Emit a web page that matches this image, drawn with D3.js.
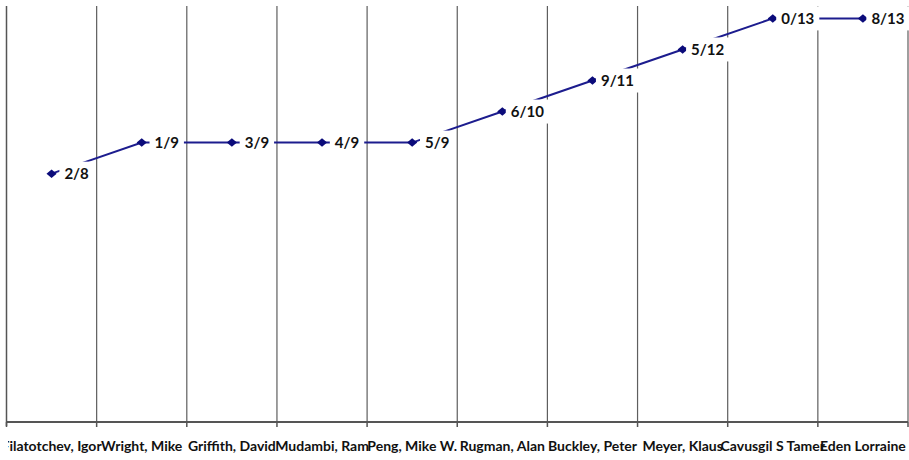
<!DOCTYPE html>
<html>
<head>
<meta charset="utf-8">
<script src="https://cdn.jsdelivr.net/npm/d3@7"></script>
<style>
  html, body { margin: 0; padding: 0; background: #fff; }
  svg { display: block; }
</style>
</head>
<body>
<svg id="chart" width="909" height="460"></svg>
<script>
// Authors along the x axis
const categories = [
  "Filatotchev, Igor", "Wright, Mike", "Griffith, David", "Mudambi, Ram",
  "Peng, Mike W.", "Rugman, Alan", "Buckley, Peter", "Meyer, Klaus",
  "Cavusgil S Tamer", "Eden Lorraine"
];
// Series values
const values = [8, 9, 9, 9, 9, 10, 11, 12, 13, 13];
// First part of each point label; the second part is the value itself
const labelLeads = [2, 1, 3, 4, 5, 6, 9, 5, 0, 8];
const pointLabels = labelLeads.map((n, i) => n + "/" + values[i]);

const svg = d3.select("#chart");
const plot = { left: 6.5, right: 908, top: 6, bottom: 422 };

const x = d3.scaleBand().domain(categories).range([plot.left, plot.right]).padding(0);
const y = d3.scaleLinear().domain([0, 13.4]).range([plot.bottom, plot.top]);

const gridColor = "#5e5e5e";

// Vertical gridlines at category boundaries
svg.append("g")
  .selectAll("line")
  .data(categories)
  .join("line")
  .attr("x1", d => x(d) + x.bandwidth())
  .attr("x2", d => x(d) + x.bandwidth())
  .attr("y1", plot.top)
  .attr("y2", plot.bottom)
  .attr("stroke", gridColor)
  .attr("stroke-width", 1.2);

// Category axis with tick marks at band edges
const xAxis = svg.append("g").attr("transform", `translate(0,${plot.bottom})`);
xAxis.append("line")
  .attr("x1", plot.left).attr("x2", plot.right)
  .attr("stroke", "#555").attr("stroke-width", 2);
xAxis.selectAll("line.tick")
  .data([null, ...categories])
  .join("line")
  .attr("class", "tick")
  .attr("x1", d => d === null ? plot.left : x(d) + x.bandwidth())
  .attr("x2", d => d === null ? plot.left : x(d) + x.bandwidth())
  .attr("y1", 0).attr("y2", 5)
  .attr("stroke", "#555").attr("stroke-width", 1.5);

// Left axis line
svg.append("line")
  .attr("x1", plot.left).attr("x2", plot.left)
  .attr("y1", plot.top).attr("y2", plot.bottom + 4)
  .attr("stroke", "#555").attr("stroke-width", 1.5);

// Category labels, centred on their bands (long names run into each other)
svg.append("clipPath").attr("id", "labelClip")
  .append("rect")
  .attr("x", plot.left + 1.5).attr("y", plot.bottom)
  .attr("width", 909 - plot.left).attr("height", 460 - plot.bottom);
svg.append("g")
  .attr("clip-path", "url(#labelClip)")
  .selectAll("text")
  .data(categories)
  .join("text")
  .attr("x", d => x(d) + x.bandwidth() / 2)
  .attr("y", 451)
  .attr("text-anchor", "middle")
  .attr("font-family", "Lato, 'Open Sans', sans-serif")
  .attr("font-weight", 700)
  .attr("font-size", 14)
  .attr("fill", "#111")
  .text(d => d);

// Series line
const px = (d, i) => x(categories[i]) + x.bandwidth() / 2;
const line = d3.line().x((d, i) => px(d, i)).y(d => y(d));
svg.append("path")
  .datum(values)
  .attr("d", line)
  .attr("fill", "none")
  .attr("stroke", "#1c1c8e")
  .attr("stroke-width", 2);

// Diamond markers, a little wider than tall
const wideDiamond = {
  draw(ctx, size) {
    const h = Math.sqrt(size) / 2;
    ctx.moveTo(-h * 1.2, 0);
    ctx.lineTo(0, -h);
    ctx.lineTo(h * 1.2, 0);
    ctx.lineTo(0, h);
    ctx.closePath();
  }
};
svg.append("g")
  .selectAll("path")
  .data(values)
  .join("path")
  .attr("d", d3.symbol().type(wideDiamond).size(72))
  .attr("transform", (d, i) => `translate(${px(d, i)},${y(d)})`)
  .attr("fill", "#0b0b7a");

// Point labels with white boxes behind them
const lbl = svg.append("g")
  .selectAll("g")
  .data(values)
  .join("g")
  .attr("transform", (d, i) => `translate(${px(d, i) + 25},${y(d)})`);
const lblText = lbl.append("text")
  .attr("text-anchor", "middle")
  .attr("dy", "0.36em")
  .attr("font-family", "Lato, 'Open Sans', sans-serif")
  .attr("font-weight", 700)
  .attr("font-size", 15)
  .attr("fill", "#111")
  .text((d, i) => pointLabels[i]);
lblText.each(function () {
  const b = this.getBBox();
  d3.select(this.parentNode).insert("rect", "text")
    .attr("x", b.x - 5)
    .attr("width", b.width + 10)
    .attr("y", -12)
    .attr("height", 24)
    .attr("fill", "#fff");
});
</script>
</body>
</html>
